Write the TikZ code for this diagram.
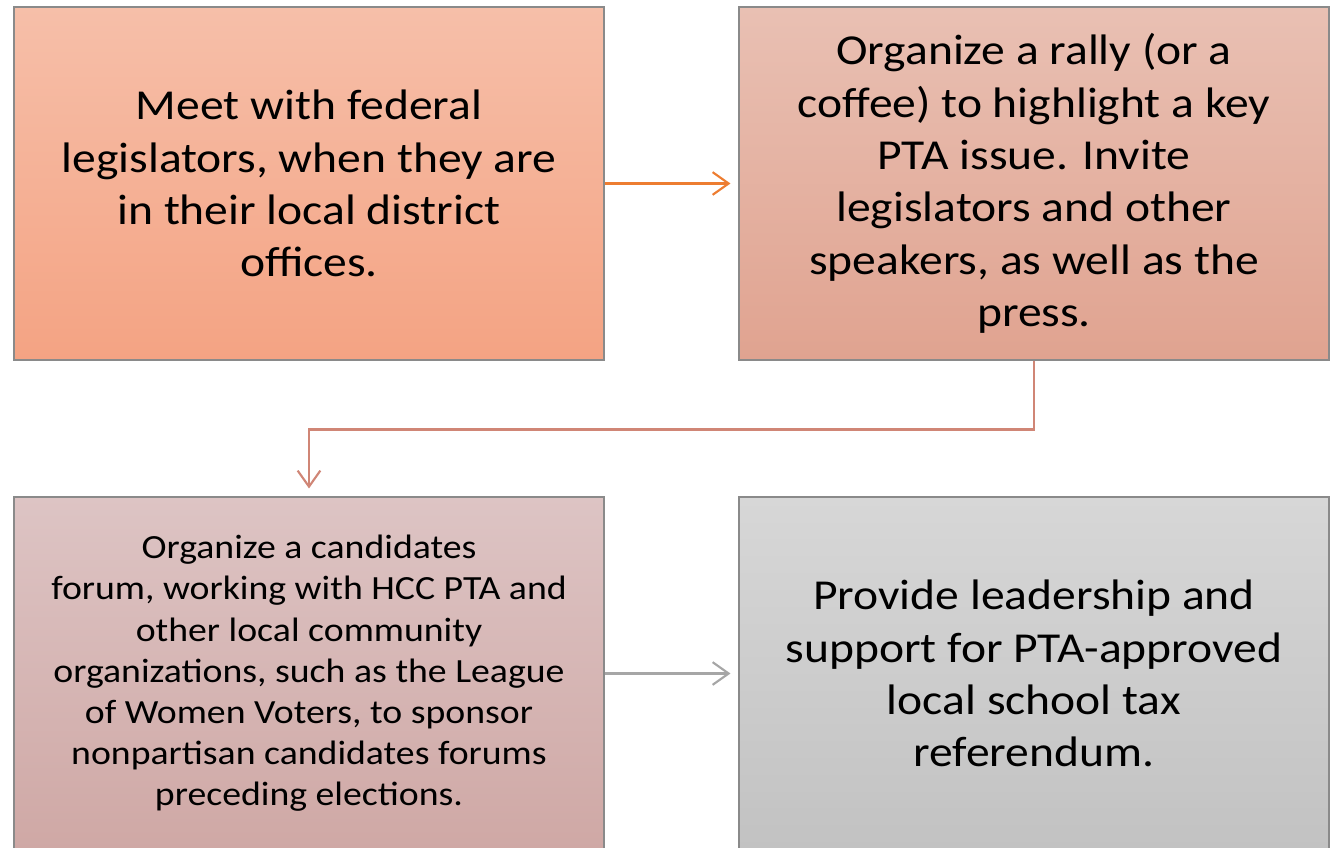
\documentclass[tikz,border=0pt]{standalone}
\usepackage{fontspec}
\setmainfont{Carlito}[FakeStretch=1.115]
\usetikzlibrary{arrows.meta}
\definecolor{tltop}{HTML}{F6BFA9}
\definecolor{tlbot}{HTML}{F4A383}
\definecolor{trtop}{HTML}{E9C0B3}
\definecolor{trbot}{HTML}{E0A390}
\definecolor{bltop}{HTML}{DDC4C4}
\definecolor{blbot}{HTML}{CFA8A5}
\definecolor{brtop}{HTML}{D7D7D7}
\definecolor{brbot}{HTML}{C2C2C2}
\definecolor{boxline}{HTML}{8A8A8A}
\definecolor{arrOrange}{HTML}{ED7D31}
\definecolor{arrBrown}{HTML}{D08676}
\definecolor{arrGray}{HTML}{A6A6A6}
\begin{document}
\begin{tikzpicture}[x=0.75pt,y=0.75pt,
  box/.style={draw=boxline, line width=0.8pt, minimum width=442.5pt, minimum height=264.75pt,
    inner sep=0pt, align=center, text=black},
  bigtext/.style={font=\fontsize{32}{39.2}\selectfont},
  smalltext/.style={font=\fontsize{25.4}{30.9}\selectfont},
  conn/.style={line width=1.6pt, -{Straight Barb[length=12pt,width=17pt,line width=1.6pt]}}
]
\useasboundingbox (0,0) rectangle (1337,847);
\begin{scope}
\clip (0,0) rectangle (1337,847);
\node[box, bigtext, top color=tltop, bottom color=tlbot] (tl) at (309,663.5)
  {Meet with federal\\legislators, when they are\\in their local district\\offices.};
\node[box, bigtext, top color=trtop, bottom color=trbot] (tr) at (1034,663.5)
  {Organize a rally (or a\\coffee) to highlight a key\\PTA issue. Invite\\legislators and other\\speakers, as well as the\\press.};
\node[box, smalltext, top color=bltop, bottom color=blbot] (bl) at (309,173.5)
  {Organize a candidates\\forum, working with HCC PTA and\\other local community\\organizations, such as the League\\of Women Voters, to sponsor\\nonpartisan candidates forums\\preceding elections.};
\node[box, bigtext, top color=brtop, bottom color=brbot] (br) at (1034,173.5)
  {Provide leadership and\\support for PTA-approved\\local school tax\\referendum.};
\end{scope}
\draw[conn, arrOrange, shorten >=6pt] (tl.east) -- (tr.west);
\draw[conn, arrBrown, shorten >=6pt] (tr.south) -- ++(0,-69) -| (bl.north);
\draw[conn, arrGray, shorten >=6pt] (bl.east) -- (br.west);
\end{tikzpicture}
\end{document}
